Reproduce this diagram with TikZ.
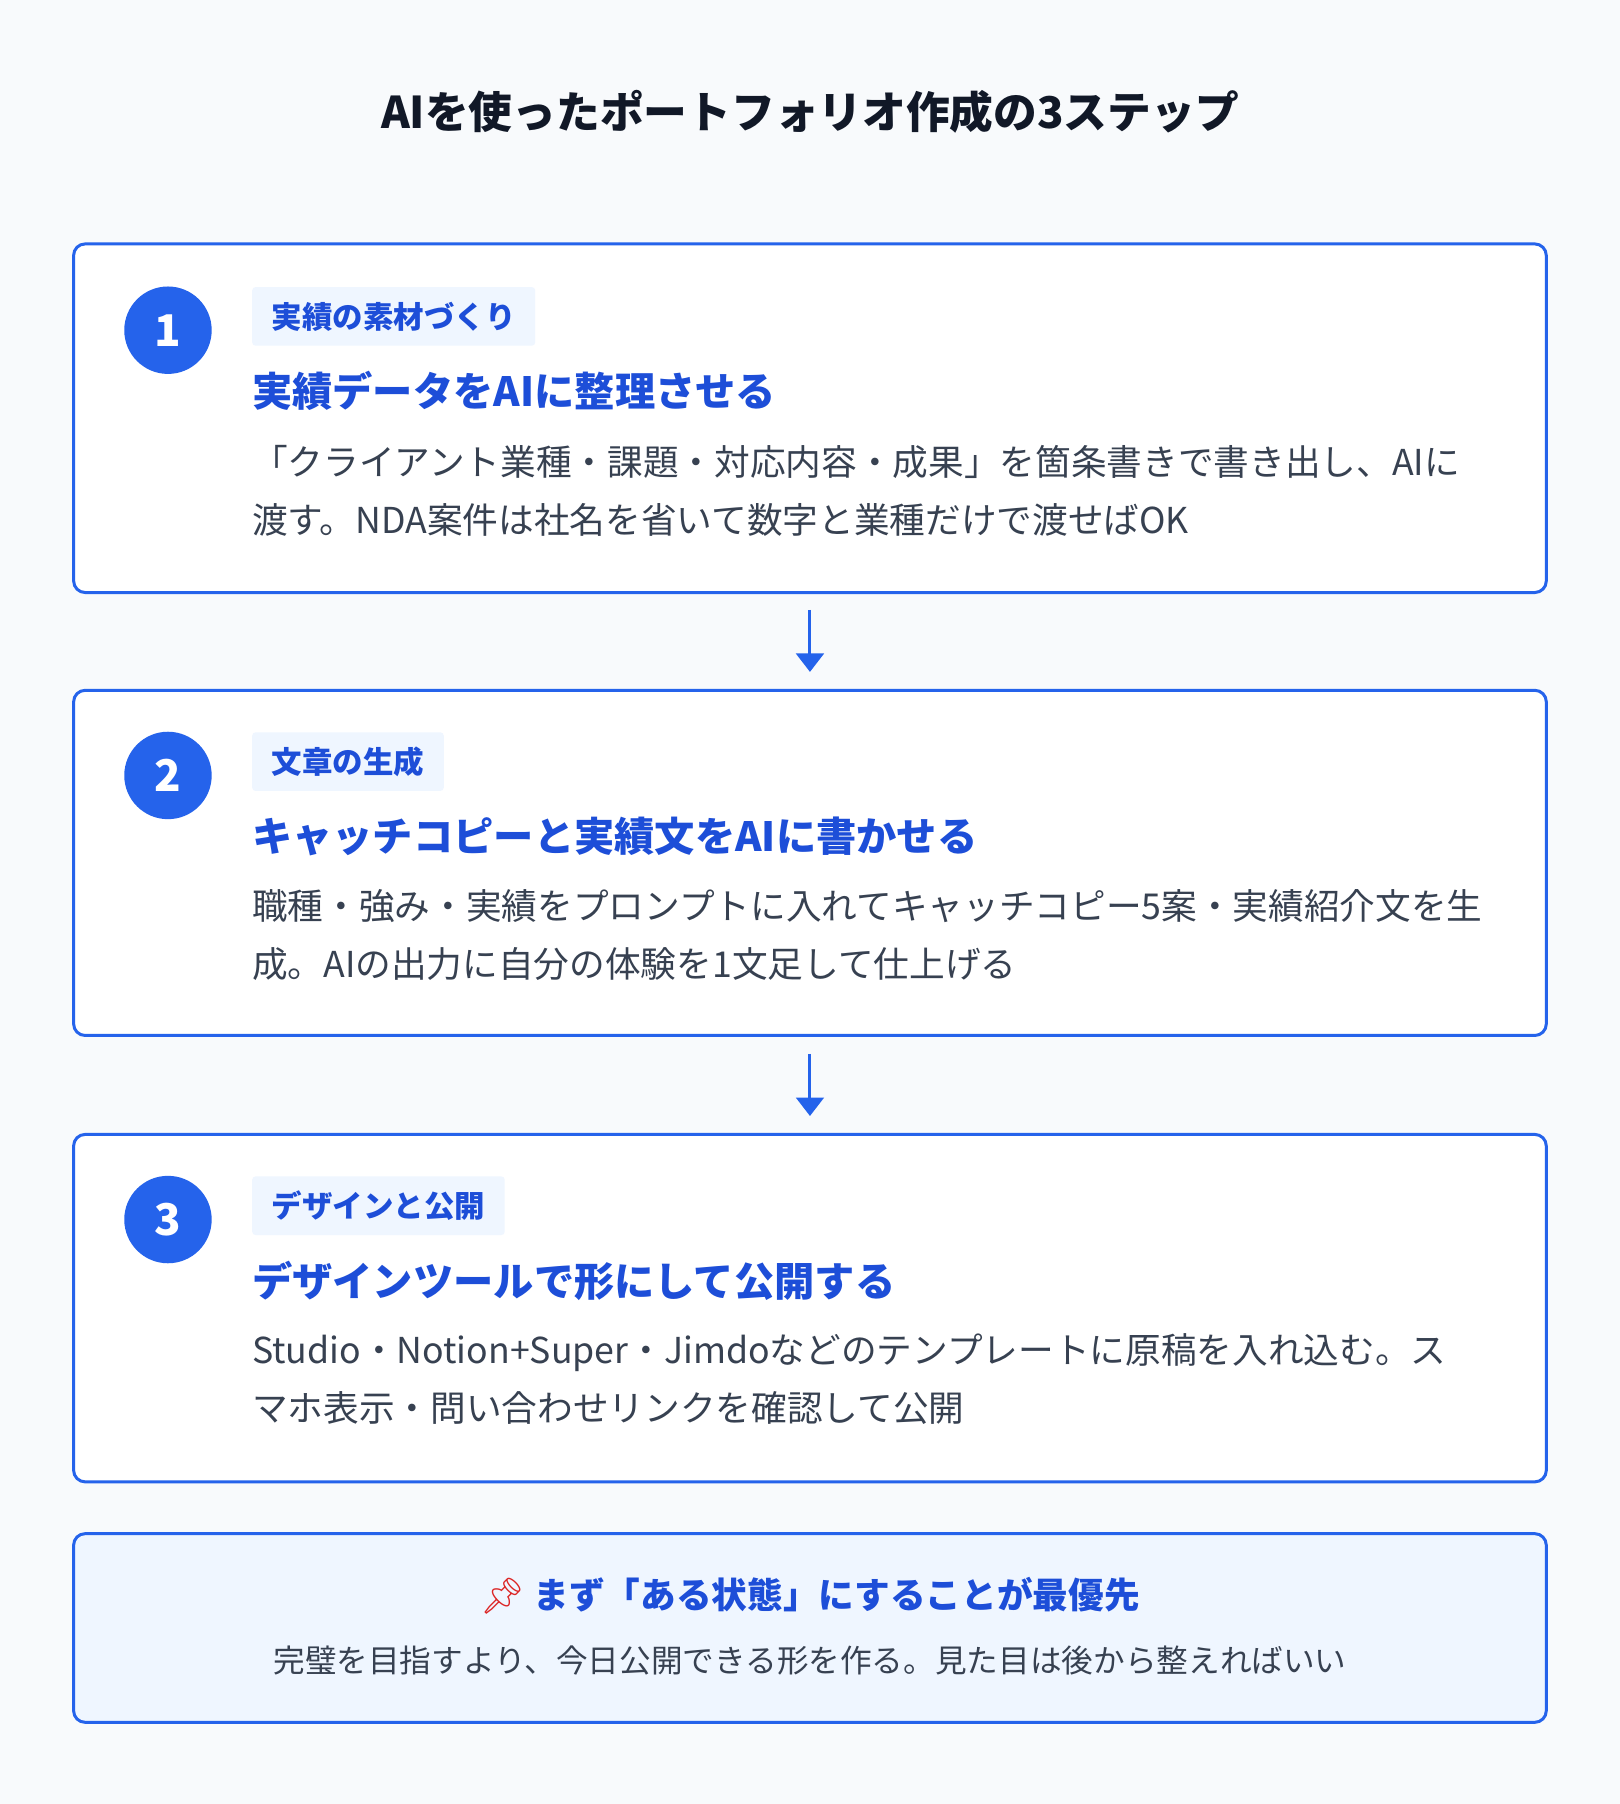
\documentclass[tikz,border=0pt]{standalone}
\usepackage{fontspec}
\setmainfont{Noto Sans CJK JP}
\newfontfamily\emojifont{Noto Emoji}
\usetikzlibrary{positioning,arrows.meta}
\definecolor{bgcol}{HTML}{F8FAFC}
\definecolor{stepblue}{HTML}{2563EB}
\definecolor{headblue}{HTML}{1D4ED8}
\definecolor{tagfill}{HTML}{EFF6FF}
\definecolor{bodygray}{HTML}{374151}
\definecolor{titleblack}{HTML}{111827}
\definecolor{pinred}{HTML}{DC2626}
\begin{document}
\begin{tikzpicture}[x=1pt,y=-1pt,
  stepbox/.style={draw=stepblue,line width=2.6pt,rounded corners=10pt,fill=white},
  numdot/.style={circle,fill=stepblue,minimum size=76pt,inner sep=0pt,
    text=white,font=\fontsize{38}{40}\selectfont\bfseries},
  tagbox/.style={fill=tagfill,rounded corners=3pt,anchor=west,inner xsep=17pt,
    minimum height=51pt,text=headblue,font=\fontsize{26.5}{30}\selectfont\bfseries},
  steptitle/.style={anchor=west,inner sep=0pt,text=headblue,
    font=\fontsize{35}{40}\selectfont\bfseries},
  stepbody/.style={anchor=north west,inner sep=0pt,align=left,text=bodygray,
    font=\fontsize{31}{50}\selectfont},
  flow/.style={-{Triangle[length=16pt,width=24pt]},draw=stepblue,line width=2.6pt}
  ]
  \fill[bgcol] (0,0) rectangle (1408,1568);
  \node[text=titleblack,font=\fontsize{38}{40}\selectfont\bfseries] (title) at (704,97)
    {AIを使ったポートフォリオ作成の3ステップ};
  % step 1
  \draw[stepbox] (64,212) rectangle (1344,515);
  \node[numdot] (n1) at (146,287) {1};
  \node[tagbox] (tag1) at (219,275) {実績の素材づくり};
  \node[steptitle] (head1) at (219,340) {実績データをAIに整理させる};
  \node[stepbody] (body1) at (219,387) {「クライアント業種・課題・対応内容・成果」を箇条書きで書き出し、AIに\\渡す。NDA案件は社名を省いて数字と業種だけで渡せばOK};
  % step 2
  \draw[stepbox] (64,600) rectangle (1344,900);
  \node[numdot] (n2) at (146,674) {2};
  \node[tagbox] (tag2) at (219,662) {文章の生成};
  \node[steptitle] (head2) at (219,727) {キャッチコピーと実績文をAIに書かせる};
  \node[stepbody] (body2) at (219,773) {職種・強み・実績をプロンプトに入れてキャッチコピー5案・実績紹介文を生\\成。AIの出力に自分の体験を1文足して仕上げる};
  % step 3
  \draw[stepbox] (64,986) rectangle (1344,1288);
  \node[numdot] (n3) at (146,1060) {3};
  \node[tagbox] (tag3) at (219,1048) {デザインと公開};
  \node[steptitle] (head3) at (219,1113) {デザインツールで形にして公開する};
  \node[stepbody] (body3) at (219,1159) {Studio・Notion+Super・Jimdoなどのテンプレートに原稿を入れ込む。ス\\マホ表示・問い合わせリンクを確認して公開};
  % arrows
  \coordinate (a1s) at (704,530); \coordinate (a1e) at (704,584);
  \coordinate (a2s) at (704,916); \coordinate (a2e) at (704,970);
  \draw[flow] (a1s) -- (a1e);
  \draw[flow] (a2s) -- (a2e);
  % summary
  \draw[stepbox,fill=tagfill] (64,1333) rectangle (1344,1497);
  \node[text=headblue,font=\fontsize{31}{36}\selectfont\bfseries] (sumhead) at (704,1387)
    {{\emojifont\color{pinred}📌}\ まず「ある状態」にすることが最優先};
  \node[text=bodygray,font=\fontsize{27.5}{30}\selectfont] (sumbody) at (704,1443)
    {完璧を目指すより、今日公開できる形を作る。見た目は後から整えればいい};
\end{tikzpicture}
\end{document}
